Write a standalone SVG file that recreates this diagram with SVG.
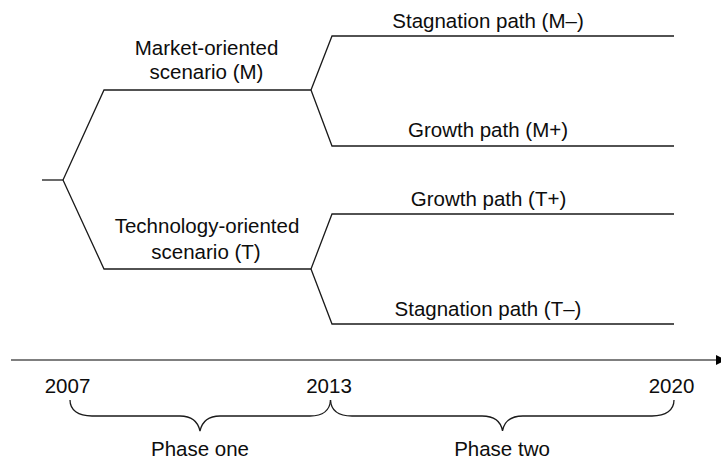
<svg xmlns="http://www.w3.org/2000/svg" width="721" height="462" viewBox="0 0 721 462">
  <style>
    .ln { fill: none; stroke: #1a1a1a; stroke-width: 1.3; stroke-linejoin: miter; }
    .axis { fill: none; stroke: #555; stroke-width: 1.6; }
    .lbl { font-family: "Liberation Sans", Arial, Helvetica, sans-serif; font-size: 20.5px; fill: #0d0d0d; text-anchor: middle; }
  </style>
  <defs>
    <marker id="arrow" viewBox="0 0 10 10" refX="0" refY="5" markerWidth="10" markerHeight="10" markerUnits="userSpaceOnUse" orient="auto" overflow="visible">
      <path d="M0,0 L10,5 L0,10 Z" fill="#000"/>
    </marker>
  </defs>
  <rect width="721" height="462" fill="#fff"/>

  <!-- scenario tree branches -->
  <g id="connectors">
    <path class="ln" d="M42,180 L63,180"/>
    <path class="ln" d="M63,180 L104,90 L311,90"/>
    <path class="ln" d="M63,180 L104,269 L311,269"/>
    <path class="ln" d="M311,90 L332,36 L674,36"/>
    <path class="ln" d="M311,90 L332,146 L674,146"/>
    <path class="ln" d="M311,269 L332,214 L674,214"/>
    <path class="ln" d="M311,269 L332,324 L674,324"/>
  </g>

  <g id="scenario-m">
    <text class="lbl" x="206.5" y="55">Market-oriented</text>
    <text class="lbl" x="206.5" y="79">scenario (M)</text>
  </g>
  <g id="scenario-t">
    <text class="lbl" x="207" y="233">Technology-oriented</text>
    <text class="lbl" x="206" y="259">scenario (T)</text>
  </g>
  <g id="path-m-minus">
    <text class="lbl" x="488" y="28">Stagnation path (M–)</text>
  </g>
  <g id="path-m-plus">
    <text class="lbl" x="488" y="137">Growth path (M+)</text>
  </g>
  <g id="path-t-plus">
    <text class="lbl" x="488.5" y="205.5">Growth path (T+)</text>
  </g>
  <g id="path-t-minus">
    <text class="lbl" x="488" y="316">Stagnation path (T–)</text>
  </g>

  <!-- time axis -->
  <g id="timeline">
    <path class="axis" d="M11,360 L716,360" marker-end="url(#arrow)"/>
    <text class="lbl" x="67.5" y="393">2007</text>
    <text class="lbl" x="329" y="393">2013</text>
    <text class="lbl" x="671.5" y="393">2020</text>
  </g>

  <g id="phase-one">
    <path class="ln" d="M70,400 C70,410 78,416 92,416 L180,416 C192,416 198,422 200,431 C202,422 208,416 220,416 L310,416 C323,416 330,410 330.5,400"/>
    <text class="lbl" x="200" y="456">Phase one</text>
  </g>
  <g id="phase-two">
    <path class="ln" d="M330.5,400 C331,410 338,416 352,416 L482,416 C495,416 501,422 502.5,431 C504,422 510,416 523,416 L652,416 C666,416 674,410 674,400"/>
    <text class="lbl" x="502" y="456">Phase two</text>
  </g>
</svg>
